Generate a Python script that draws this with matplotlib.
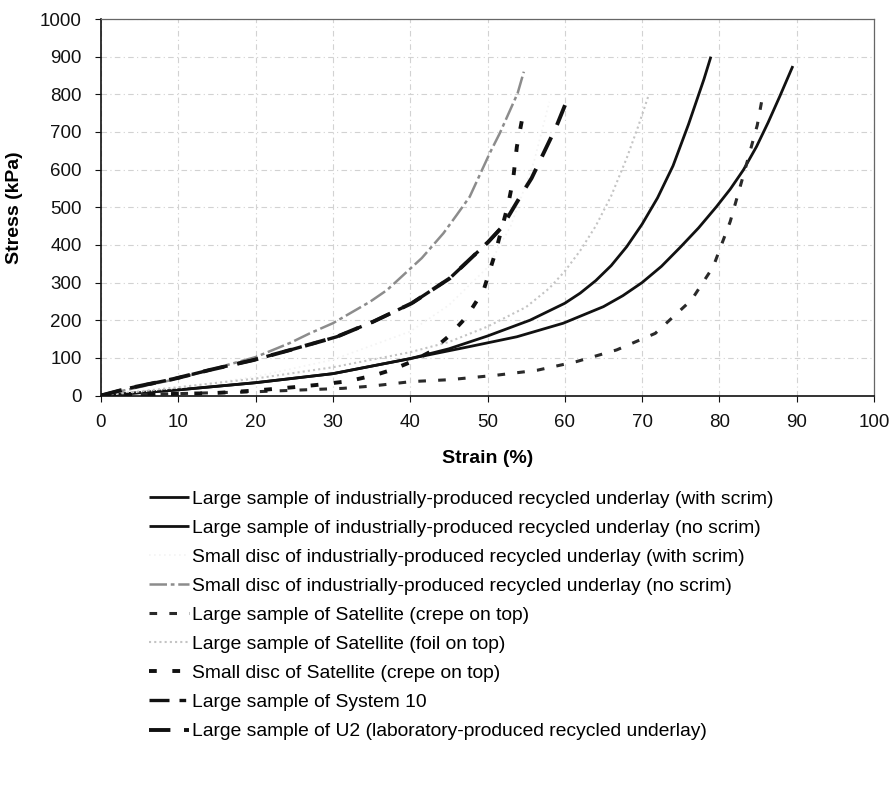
import matplotlib
matplotlib.use("Agg")
import matplotlib.pyplot as plt

plt.rcParams['font.family'] = ['Liberation Sans', 'DejaVu Sans']

# ---- data (strain %, stress kPa) ----
lg_ind_scrim_x = [0, 10, 20, 30, 40, 45, 50, 55.5, 60, 62, 64, 66, 68, 70, 72, 74, 76, 78, 78.9]
lg_ind_scrim_y = [0, 15, 34, 58, 98, 124, 158, 200, 245, 272, 305, 345, 395, 455, 525, 610, 720, 840, 900]

lg_ind_noscrim_x = [0, 10, 20, 30, 40, 47.7, 53.8, 59.8, 65, 67.5, 70, 72.5, 75, 77.3, 79.6, 81.4, 83.1, 84.8, 86.3, 87.8, 89.5]
lg_ind_noscrim_y = [0, 15, 34, 58, 98, 130, 156, 192, 236, 265, 300, 343, 395, 445, 501, 548, 599, 661, 725, 794, 875]

sd_ind_scrim_x = [0, 10, 20, 30, 40, 45, 50, 53, 56, 58]
sd_ind_scrim_y = [0, 20, 50, 95, 170, 240, 340, 450, 620, 780]

sd_ind_noscrim_x = [0, 10, 20, 24.5, 27, 30, 34.8, 37, 41.5, 44.3, 46, 47.7, 50.3, 51.6, 53.9, 54.7]
sd_ind_noscrim_y = [0, 45, 102, 140, 165, 192, 249, 280, 365, 431, 479, 528, 644, 697, 803, 860]

lg_sat_crepe_x = [0, 10, 20, 31.3, 35, 40.2, 45.1, 51.2, 56.4, 61.5, 66.7, 71.7, 76.4, 79.2, 81.4, 83.3, 84.9, 85.5]
lg_sat_crepe_y = [0, 5, 10, 19, 25, 37, 42, 54, 67, 90, 121, 165, 254, 342, 462, 599, 718, 785]

lg_sat_foil_x = [0, 10, 20, 30, 40, 45, 50, 55, 58, 60, 62, 64, 66, 68, 69.5, 70.8]
lg_sat_foil_y = [0, 22, 45, 75, 115, 142, 183, 235, 285, 330, 385, 450, 530, 630, 715, 795]

sd_sat_crepe_x = [0, 3.9, 7.5, 10.9, 14.3, 17.6, 21, 24.9, 27.9, 32, 35.4, 37.6, 40.2, 42.6, 44.9, 47.3, 49.5, 51, 51.8, 52.7, 53.3, 53.8, 54.5]
sd_sat_crepe_y = [0, 2, 3, 5, 6, 10, 15, 22, 28, 38, 54, 68, 90, 116, 156, 209, 280, 378, 440, 510, 572, 661, 736]

sys10_x = [0, 3.5, 9.4, 14.1, 19.7, 24.5, 30.5, 35.2, 40.2, 45.1, 50.1, 51.9]
sys10_y = [0, 19, 44, 68, 94, 121, 156, 196, 245, 311, 408, 448]

u2_x = [0, 3.5, 9.4, 14.1, 19.7, 24.5, 30.5, 35.2, 40.2, 45.1, 50.1, 51.9, 54.6, 55.7, 58.9, 60.2]
u2_y = [0, 19, 44, 68, 94, 121, 156, 196, 245, 311, 408, 448, 541, 577, 714, 780]

labels = [
    "Large sample of industrially-produced recycled underlay (with scrim)",
    "Large sample of industrially-produced recycled underlay (no scrim)",
    "Small disc of industrially-produced recycled underlay (with scrim)",
    "Small disc of industrially-produced recycled underlay (no scrim)",
    "Large sample of Satellite (crepe on top)",
    "Large sample of Satellite (foil on top)",
    "Small disc of Satellite (crepe on top)",
    "Large sample of System 10",
    "Large sample of U2 (laboratory-produced recycled underlay)",
]

x_ticks = list(range(0, 101, 10))
y_ticks = list(range(0, 1001, 100))

fig = plt.figure(figsize=(8.94, 7.88), dpi=100)
ax = fig.add_axes([101/894, 1-395.5/788, (874-101)/894, (395.5-19)/788])

series = [
    (lg_ind_scrim_x, lg_ind_scrim_y, dict(color='#111111', lw=2.0, ls='-')),
    (lg_ind_noscrim_x, lg_ind_noscrim_y, dict(color='#111111', lw=2.0, ls='-')),
    (sd_ind_scrim_x, sd_ind_scrim_y, dict(color='#f3f3f3', lw=1.2, ls=(0, (1, 2)))),
    (sd_ind_noscrim_x, sd_ind_noscrim_y, dict(color='#8c8c8c', lw=1.8, ls=(0, (7, 1.5, 1.5, 1.5)))),
    (lg_sat_crepe_x, lg_sat_crepe_y, dict(color='#2a2a2a', lw=2.2, ls=(0, (2.5, 4)))),
    (lg_sat_foil_x, lg_sat_foil_y, dict(color='#c4c4c4', lw=1.5, ls=(0, (1, 1.5)))),
    (sd_sat_crepe_x, sd_sat_crepe_y, dict(color='#111111', lw=2.8, ls=(0, (2, 4)))),
    (sys10_x, sys10_y, dict(color='#111111', lw=2.4, ls=(0, (6, 3, 2, 3)))),
    (u2_x, u2_y, dict(color='#111111', lw=2.8, ls=(0, (5.5, 3.5)))),
]
handles = []
for (xs, ys, st), lab in zip(series, labels):
    h, = ax.plot(xs, ys, label=lab, solid_capstyle='butt', dash_capstyle='butt',
                 solid_joinstyle='round', **st)
    handles.append(h)

ax.set_xlim(0, 100)
ax.set_ylim(0, 1000)
ax.set_xticks(x_ticks)
ax.set_yticks(y_ticks)
ax.tick_params(direction='out', length=4, width=0.8, labelsize=13.5, colors='#111111')
ax.tick_params(axis='y', pad=10)
ax.tick_params(axis='x', pad=9)
ax.grid(True, color='#d2d2d2', lw=0.8, ls=(0, (5, 3, 1, 3)))
for s in ['left', 'bottom']:
    ax.spines[s].set_color('#111111')
    ax.spines[s].set_linewidth(1.2)
for s in ['top', 'right']:
    ax.spines[s].set_color('#666666')
    ax.spines[s].set_linewidth(0.9)

ax.set_xlabel("Strain (%)", fontsize=14, fontweight='bold', labelpad=14)
ax.set_ylabel("Stress (kPa)", fontsize=14, fontweight='bold', labelpad=12)

fig.legend(handles=handles, labels=labels, loc='upper left',
           bbox_to_anchor=(149/894, 1-490/788), frameon=False,
           fontsize=13.9, handlelength=2.05, handletextpad=0.2,
           labelspacing=0.6, borderpad=0, borderaxespad=0)

fig.savefig("out.png", dpi=100)
